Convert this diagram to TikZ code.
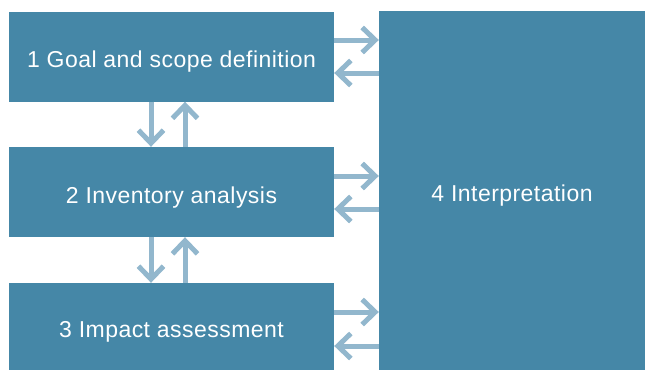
\documentclass[tikz,border=0pt]{standalone}
\usepackage{fontspec}
\setmainfont{Liberation Sans}
\usetikzlibrary{arrows.meta}
\definecolor{boxblue}{HTML}{4587A7}
\definecolor{arrblue}{HTML}{92B7CD}
\begin{document}
\begin{tikzpicture}[x=1pt,y=-1pt,
  stagebox/.style={fill=boxblue,draw=none,inner sep=0pt,text=white,
    text height=22pt,text depth=0pt,
    font=\fontsize{23}{27}\selectfont\addfontfeature{LetterSpace=2}},
  conn/.style={draw=arrblue,line width=5pt,
    -{Straight Barb[length=13pt,width=25pt,line width=5pt]}}]
\useasboundingbox (0,0) rectangle (645,370);
\node[stagebox,minimum width=325pt,minimum height=90pt] (b1) at (171.5,56.5) {1 Goal and scope definition};
\node[stagebox,minimum width=325pt,minimum height=90pt] (b2) at (171.5,192) {2 Inventory analysis};
\node[stagebox,minimum width=325pt,minimum height=87pt] (b3) at (171.5,326.5) {3 Impact assessment};
\node[stagebox,minimum width=266pt,minimum height=359pt] (b4) at (512,190.5) {4 Interpretation};
% horizontal arrows
\draw[conn] (b1.east |- 0,40) -- (b4.west |- 0,40);
\draw[conn] (b4.west |- 0,73) -- (b1.east |- 0,73);
\draw[conn] (b2.east |- 0,176) -- (b4.west |- 0,176);
\draw[conn] (b4.west |- 0,209) -- (b2.east |- 0,209);
\draw[conn] (b3.east |- 0,312) -- (b4.west |- 0,312);
\draw[conn] (b4.west |- 0,346) -- (b3.east |- 0,346);
% vertical arrows
\draw[conn] (b1.south -| 151,0) -- (b2.north -| 151,0);
\draw[conn] (b2.north -| 185,0) -- (b1.south -| 185,0);
\draw[conn] (b2.south -| 151,0) -- (b3.north -| 151,0);
\draw[conn] (b3.north -| 185,0) -- (b2.south -| 185,0);
\end{tikzpicture}
\end{document}
